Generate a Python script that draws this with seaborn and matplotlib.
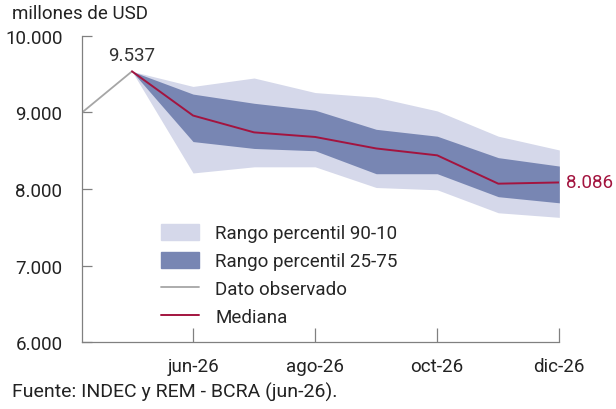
import pandas as pd
import seaborn as sns
import matplotlib.pyplot as plt
from matplotlib.patches import Patch
from matplotlib.lines import Line2D

# meses: 0 = may-26 ... 7 = dic-26 (abr-26 = -1, recortado por el eje)
obs_mes = [-1, 0]
obs_valor = [8880, 9537]

mes = [0, 1, 2, 3, 4, 5, 6, 7]
p10 = [9537, 8210, 8290, 8290, 8020, 7990, 7690, 7630]
p25 = [9537, 8620, 8530, 8500, 8200, 8200, 7900, 7820]
mediana = [9537, 8960, 8740, 8680, 8530, 8440, 8070, 8086]
p75 = [9537, 9240, 9120, 9030, 8780, 8690, 8410, 8300]
p90 = [9537, 9340, 9450, 9260, 9200, 9020, 8690, 8510]

tick_pos = [1, 3, 5, 7]
tick_lab = ["jun-26", "ago-26", "oct-26", "dic-26"]

C_OUT = "#d5d8ea"
C_IN = "#7886b3"
C_OBS = "#a6a6a6"
C_MED = "#a3143f"
FS = 13.5

sns.set_theme(style="white")
plt.rcParams["font.family"] = ["Roboto", "DejaVu Sans"]
plt.rcParams["font.size"] = FS

df = pd.DataFrame({"mes": mes, "p10": p10, "p25": p25, "mediana": mediana,
                   "p75": p75, "p90": p90})
obs = pd.DataFrame({"mes": obs_mes, "valor": obs_valor})

fig = plt.figure(figsize=(6.16, 4.10), dpi=100)
ax = fig.add_axes([0.133, 0.163, 0.775, 0.747])

ax.fill_between(df["mes"], df["p10"], df["p90"], color=C_OUT, lw=0)
ax.fill_between(df["mes"], df["p25"], df["p75"], color=C_IN, lw=0)
sns.lineplot(data=obs, x="mes", y="valor", color=C_OBS, lw=1.3, ax=ax)
sns.lineplot(data=df, x="mes", y="mediana", color=C_MED, lw=1.4, ax=ax)

ax.set_xlim(-0.82, 7)
ax.set_ylim(6000, 10000)
ax.set_xticks(tick_pos)
ax.set_xticklabels(tick_lab)
ax.set_yticks([6000, 7000, 8000, 9000, 10000])
ax.set_yticklabels(["6.000", "7.000", "8.000", "9.000", "10.000"])
ax.set_xlabel("")
ax.set_ylabel("")
for s in ["top", "right"]:
    ax.spines[s].set_visible(False)
for s in ["left", "bottom"]:
    ax.spines[s].set_color("#808080")
    ax.spines[s].set_linewidth(0.9)
ax.tick_params(axis="x", direction="in", length=10, width=0.9, color="#808080",
               pad=11, labelsize=FS, labelcolor="#222222")
ax.tick_params(axis="y", direction="in", length=7, width=0.9, color="#808080",
               pad=14, labelsize=FS, labelcolor="#222222")
ax.tick_params(axis="both", which="both", bottom=True, left=True)

ax.annotate("9.537", xy=(0, 9537), xytext=(0, 5), textcoords="offset points",
            ha="center", va="bottom", fontsize=FS, color="#333333")
ax.annotate("8.086", xy=(7, 8086), xytext=(5, 0), textcoords="offset points",
            ha="left", va="center", fontsize=FS, color=C_MED,
            annotation_clip=False)

handles = [Patch(color=C_OUT), Patch(color=C_IN),
           Line2D([], [], color=C_OBS, lw=1.3), Line2D([], [], color=C_MED, lw=1.4)]
labels = ["Rango percentil 90-10", "Rango percentil 25-75", "Dato observado", "Mediana"]
ax.legend(handles, labels, loc="upper left", bbox_to_anchor=(0.15, 0.41),
          frameon=False, fontsize=FS, handlelength=2.05, handleheight=0.9,
          handletextpad=0.85, labelspacing=0.52, borderaxespad=0)

fig.text(0.02, 0.965, "millones de USD", fontsize=FS, color="#222222", va="center")
fig.text(0.02, 0.043, "Fuente: INDEC y REM - BCRA (jun-26).", fontsize=14,
         color="#222222", va="center")

fig.savefig("out.png", dpi=100)
